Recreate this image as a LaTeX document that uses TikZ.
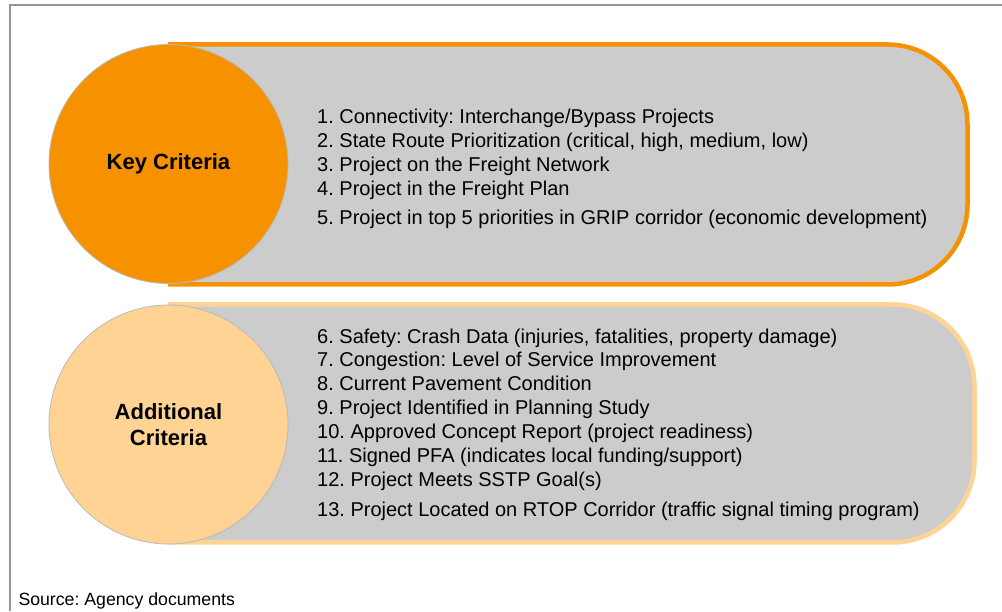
\documentclass[tikz,border=0pt]{standalone}
\usepackage{fontspec}
\setmainfont{Liberation Sans}
\frenchspacing
\definecolor{keyorange}{RGB}{246,146,0}
\definecolor{lightorange}{RGB}{255,211,148}
\definecolor{pillgray}{RGB}{204,204,204}
\definecolor{framegray}{RGB}{150,150,150}
\definecolor{circleedge}{RGB}{185,185,185}
\begin{document}
\begin{tikzpicture}[x=1pt,y=1pt,
  item/.style={anchor=base west,inner sep=0pt,font=\fontsize{20}{24}\selectfont},
  bigcircle/.style={circle,minimum size=239pt,inner sep=0pt,draw=circleedge,line width=0.8pt,align=center,font=\bfseries\fontsize{22}{26.4}\selectfont}]
\useasboundingbox (0,0) rectangle (1002,611);
\fill[white] (0,0) rectangle (1002,611);
% frame
\draw[framegray,line width=2pt] (9.5,0) -- (9.5,606) -- (1002,606);
% pill 1
\draw[fill=pillgray,draw=keyorange,line width=4.5pt]
  (170,326.5) -- (170,566.5) -- (887.5,566.5)
  arc[start angle=90,end angle=0,radius=80pt] -- (967.5,406.5)
  arc[start angle=0,end angle=-90,radius=80pt] -- cycle;
% pill 2
\draw[fill=pillgray,draw=lightorange,line width=4.5pt]
  (170,68.5) -- (170,306.5) -- (892.5,306.5)
  arc[start angle=90,end angle=0,radius=82pt] -- (974.5,150.5)
  arc[start angle=0,end angle=-90,radius=82pt] -- cycle;
% circles
\node[bigcircle,fill=keyorange] (key) at (168.5,447) {Key Criteria};
\node[bigcircle,fill=lightorange] (add) at (168.5,186.5) {Additional\\Criteria};
% items
\node[item] (i1) at (317,487) {1. Connectivity: Interchange/Bypass Projects};
\node[item] (i2) at (317,463) {2. State Route Prioritization (critical, high, medium, low)};
\node[item] (i3) at (317,439) {3. Project on the Freight Network};
\node[item] (i4) at (317,415) {4. Project in the Freight Plan};
\node[item] (i5) at (317,386) {5. Project in top 5 priorities in GRIP corridor (economic development)};
\node[item] (i6) at (317,267.7) {6. Safety: Crash Data (injuries, fatalities, property damage)};
\node[item] (i7) at (317,244.3) {7. Congestion: Level of Service Improvement};
\node[item] (i8) at (317,220) {8. Current Pavement Condition};
\node[item] (i9) at (317,196) {9. Project Identified in Planning Study};
\node[item] (i10) at (317,172) {10. Approved Concept Report (project readiness)};
\node[item] (i11) at (317,148.3) {11. Signed PFA (indicates local funding/support)};
\node[item] (i12) at (317,124.3) {12. Project Meets SSTP Goal(s)};
\node[item] (i13) at (317,94.3) {13. Project Located on RTOP Corridor (traffic signal timing program)};
% source
\node[anchor=base west,inner sep=0pt,font=\fontsize{17.7}{21}\selectfont] (src) at (18.3,6) {Source: Agency documents};
\end{tikzpicture}
\end{document}
